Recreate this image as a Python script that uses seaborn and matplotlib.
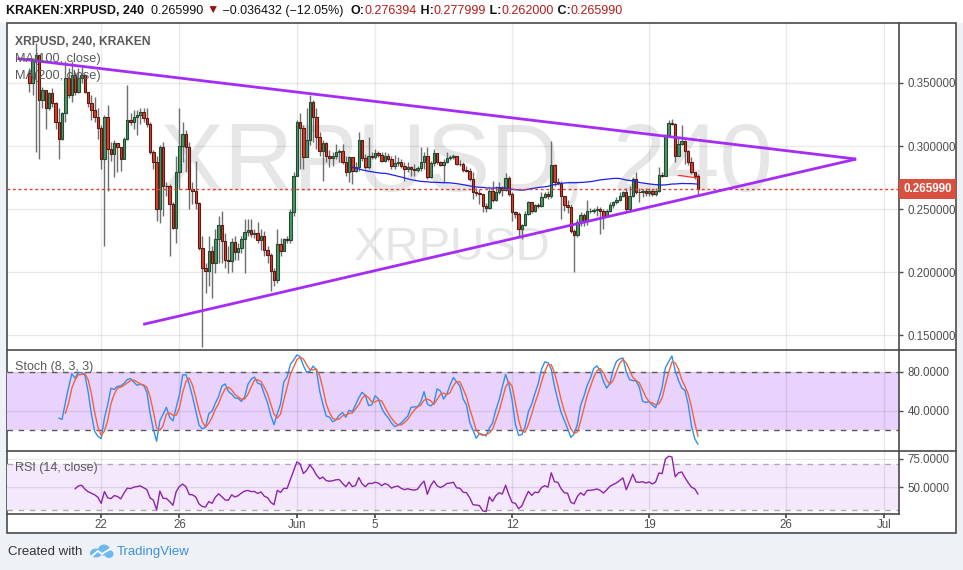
import numpy as np
import pandas as pd
import matplotlib
matplotlib.use("Agg")
import matplotlib.pyplot as plt
import matplotlib.dates as mdates
from matplotlib.patches import Rectangle, Ellipse
from matplotlib.lines import Line2D
import matplotlib.transforms as mtransforms
import seaborn as sns

# ---------------- data (4h candles, KRAKEN XRPUSD) ----------------
start_time = "2018-05-18 08:00"
open_first = 0.3577
close = [
    0.3497, 0.3670, 0.3723, 0.3364, 0.3444, 0.3298, 0.3417, 0.3338, 0.3191, 0.3058,
    0.3258, 0.3537, 0.3404, 0.3564, 0.3431, 0.3537, 0.3564, 0.3431, 0.3338, 0.3284,
    0.3231, 0.3143, 0.2899, 0.3231, 0.2978, 0.2938, 0.3027, 0.2992, 0.2899, 0.3058,
    0.3205, 0.3191, 0.3231, 0.3250, 0.3266, 0.3223, 0.3178, 0.2952, 0.2877, 0.2500,
    0.2992, 0.2686, 0.2680, 0.2539, 0.2353, 0.2792, 0.3000, 0.3095, 0.2992, 0.2659,
    0.2646, 0.2547, 0.2194, 0.2034, 0.2007, 0.2167, 0.2074, 0.2260, 0.2372, 0.2247,
    0.2101, 0.2087, 0.2242, 0.2159, 0.2194, 0.2266, 0.2321, 0.2337, 0.2303, 0.2308,
    0.2255, 0.2287, 0.2180, 0.2140, 0.2007, 0.1936, 0.2220, 0.2167, 0.2260, 0.2255,
    0.2478, 0.2766, 0.3191, 0.3143, 0.2912, 0.3050, 0.3346, 0.3231, 0.3071, 0.2957,
    0.3024, 0.2925, 0.2907, 0.2925, 0.2952, 0.2960, 0.2872, 0.2792, 0.2912, 0.2806,
    0.2832, 0.3050, 0.2904, 0.2832, 0.2920, 0.2915, 0.2947, 0.2931, 0.2880, 0.2925,
    0.2899, 0.2840, 0.2867, 0.2877, 0.2840, 0.2819, 0.2832, 0.2819, 0.2813, 0.2824,
    0.2877, 0.2923, 0.2752, 0.2867, 0.2947, 0.2877, 0.2851, 0.2872, 0.2909, 0.2915,
    0.2925, 0.2861, 0.2856, 0.2808, 0.2803, 0.2739, 0.2633, 0.2627, 0.2617, 0.2526,
    0.2513, 0.2643, 0.2574, 0.2633, 0.2665, 0.2649, 0.2750, 0.2619, 0.2478, 0.2460,
    0.2340, 0.2372, 0.2465, 0.2558, 0.2486, 0.2531, 0.2523, 0.2593, 0.2622, 0.2601,
    0.2851, 0.2718, 0.2710, 0.2606, 0.2531, 0.2521, 0.2327, 0.2292, 0.2398, 0.2457,
    0.2407, 0.2484, 0.2486, 0.2494, 0.2505, 0.2484, 0.2446, 0.2484, 0.2531, 0.2553,
    0.2574, 0.2606, 0.2638, 0.2505, 0.2606, 0.2739, 0.2638, 0.2633, 0.2643, 0.2627,
    0.2641, 0.2619, 0.2643, 0.2771, 0.2766, 0.3090, 0.3186, 0.3178, 0.2925, 0.3016,
    0.3042, 0.2957, 0.2872, 0.2792, 0.2764, 0.26599]
high = [
    0.3617, 0.3697, 0.3816, 0.3723, 0.3471, 0.3444, 0.3431, 0.3457, 0.3351, 0.3298,
    0.3271, 0.3670, 0.3617, 0.3670, 0.3590, 0.3617, 0.3630, 0.3564, 0.3417, 0.3404,
    0.3391, 0.3298, 0.3165, 0.3244, 0.3324, 0.3032, 0.3045, 0.3018, 0.2952, 0.3071,
    0.3484, 0.3258, 0.3284, 0.3284, 0.3298, 0.3298, 0.3298, 0.3191, 0.2965, 0.2925,
    0.3005, 0.3032, 0.2712, 0.2699, 0.2553, 0.2925, 0.3298, 0.3191, 0.3125, 0.3032,
    0.2712, 0.2885, 0.2553, 0.2287, 0.2074, 0.2287, 0.2207, 0.2340, 0.2446, 0.2486,
    0.2313, 0.2207, 0.2273, 0.2287, 0.2234, 0.2287, 0.2425, 0.2420, 0.2425, 0.2340,
    0.2398, 0.2340, 0.2327, 0.2207, 0.2154, 0.2034, 0.2340, 0.2273, 0.2273, 0.2287,
    0.2500, 0.2792, 0.3205, 0.3258, 0.3165, 0.3298, 0.3404, 0.3364, 0.3298, 0.3111,
    0.3045, 0.3032, 0.2965, 0.2952, 0.3018, 0.2978, 0.3018, 0.2925, 0.2925, 0.2912,
    0.2872, 0.3111, 0.3032, 0.2938, 0.3071, 0.2952, 0.2978, 0.2957, 0.2952, 0.2952,
    0.2947, 0.2925, 0.2931, 0.2912, 0.2899, 0.2872, 0.2872, 0.2845, 0.2859, 0.2845,
    0.2992, 0.2952, 0.2992, 0.2885, 0.2978, 0.2938, 0.2885, 0.2899, 0.2952, 0.2931,
    0.2936, 0.2912, 0.2893, 0.2877, 0.2845, 0.2824, 0.2792, 0.2665, 0.2659, 0.2619,
    0.2547, 0.2665, 0.2726, 0.2686, 0.2712, 0.2686, 0.2787, 0.2766, 0.2633, 0.2486,
    0.2478, 0.2380, 0.2486, 0.2566, 0.2539, 0.2539, 0.2547, 0.2633, 0.2638, 0.2646,
    0.3037, 0.2859, 0.2744, 0.2726, 0.2606, 0.2574, 0.2539, 0.2340, 0.2420, 0.2478,
    0.2468, 0.2574, 0.2513, 0.2510, 0.2526, 0.2521, 0.2500, 0.2500, 0.2553, 0.2566,
    0.2593, 0.2633, 0.2646, 0.2665, 0.2686, 0.2752, 0.2792, 0.2665, 0.2659, 0.2665,
    0.2665, 0.2659, 0.2665, 0.2832, 0.2797, 0.3098, 0.3205, 0.3213, 0.3183, 0.3071,
    0.3170, 0.3045, 0.2965, 0.2912, 0.2797, 0.277999]
low = [
    0.3431, 0.3404, 0.2952, 0.2899, 0.3298, 0.3138, 0.3284, 0.3311, 0.3138, 0.2899,
    0.3045, 0.3191, 0.3377, 0.3351, 0.3404, 0.3417, 0.3497, 0.3417, 0.3311, 0.3205,
    0.3191, 0.3058, 0.2819, 0.2207, 0.2646, 0.2885, 0.2752, 0.2792, 0.2806, 0.2899,
    0.3045, 0.3165, 0.3138, 0.3085, 0.3178, 0.3191, 0.3151, 0.2938, 0.2819, 0.2407,
    0.2393, 0.2446, 0.2606, 0.2127, 0.2340, 0.2234, 0.2659, 0.2872, 0.2792, 0.2500,
    0.2539, 0.2500, 0.2180, 0.1410, 0.1835, 0.1888, 0.1795, 0.1994, 0.2074, 0.2074,
    0.2034, 0.1994, 0.1999, 0.2101, 0.2101, 0.2154, 0.1994, 0.2287, 0.2281, 0.2273,
    0.2234, 0.2180, 0.2127, 0.2074, 0.1848, 0.1888, 0.1914, 0.2127, 0.2167, 0.2234,
    0.2234, 0.2446, 0.2766, 0.2819, 0.2819, 0.2978, 0.3005, 0.3032, 0.2978, 0.2925,
    0.2726, 0.2872, 0.2832, 0.2845, 0.2899, 0.2872, 0.2859, 0.2766, 0.2712, 0.2699,
    0.2792, 0.2806, 0.2885, 0.2819, 0.2819, 0.2899, 0.2899, 0.2912, 0.2872, 0.2872,
    0.2885, 0.2819, 0.2819, 0.2845, 0.2824, 0.2726, 0.2792, 0.2766, 0.2766, 0.2792,
    0.2806, 0.2819, 0.2739, 0.2744, 0.2840, 0.2859, 0.2840, 0.2712, 0.2867, 0.2893,
    0.2899, 0.2851, 0.2845, 0.2797, 0.2792, 0.2726, 0.2579, 0.2606, 0.2539, 0.2478,
    0.2478, 0.2500, 0.2553, 0.2566, 0.2617, 0.2606, 0.2643, 0.2606, 0.2407, 0.2433,
    0.2287, 0.2260, 0.2367, 0.2452, 0.2473, 0.2478, 0.2510, 0.2521, 0.2585, 0.2579,
    0.2590, 0.2686, 0.2691, 0.2420, 0.2486, 0.2468, 0.2308, 0.1999, 0.2281, 0.2367,
    0.2367, 0.2372, 0.2468, 0.2473, 0.2446, 0.2300, 0.2340, 0.2441, 0.2478, 0.2513,
    0.2539, 0.2566, 0.2593, 0.2486, 0.2500, 0.2593, 0.2619, 0.2553, 0.2593, 0.2606,
    0.2606, 0.2606, 0.2606, 0.2633, 0.2752, 0.2760, 0.3085, 0.3165, 0.2872, 0.2965,
    0.3005, 0.2859, 0.2851, 0.2779, 0.2739, 0.262]

# trend lines (symmetrical triangle) drawn on the chart
upper_line_time = ["2018-05-17 17:15", "2018-06-29 14:00"]
upper_line_price = [0.3693, 0.2897]
lower_line_time = ["2018-05-24 03:30", "2018-06-29 14:00"]
lower_line_price = [0.1587, 0.2897]

last_price = 0.265990
price_ticks = [0.15, 0.20, 0.25, 0.30, 0.35]
stoch_ticks = [40, 80]
rsi_ticks = [50, 75]
date_ticks = ["2018-05-22", "2018-05-26", "2018-06-01", "2018-06-05",
              "2018-06-12", "2018-06-19", "2018-06-26", "2018-07-01"]
date_labels = ["22", "26", "Jun", "5", "12", "19", "26", "Jul"]

header_parts = [("KRAKEN:XRPUSD, 240", "#111111", "bold"),
                ("  0.265990 ", "#111111", "normal"),
                ("\u25BC", "#9b0d0d", "normal"),
                (" \u22120.036432 (\u221212.05%)  ", "#111111", "normal"),
                ("O:", "#111111", "bold"), ("0.276394", "#b71c1c", "normal"),
                (" H:", "#111111", "bold"), ("0.277999", "#b71c1c", "normal"),
                (" L:", "#111111", "bold"), ("0.262000", "#b71c1c", "normal"),
                (" C:", "#111111", "bold"), ("0.265990", "#b71c1c", "normal")]

# ---------------- frame ----------------
df = pd.DataFrame({"close": close, "high": high, "low": low})
df["time"] = pd.date_range(start_time, periods=len(df), freq="4h")
df["open"] = [open_first] + close[:-1]
df["x"] = mdates.date2num(df["time"])

# indicators computed from the candles
df["ma100"] = df["close"].rolling(100).mean()
df["ma200"] = df["close"].rolling(200).mean()
ll = df["low"].rolling(8).min()
hh = df["high"].rolling(8).max()
raw_k = 100 * (df["close"] - ll) / (hh - ll)
df["k"] = raw_k.rolling(3).mean()
df["d"] = df["k"].rolling(3).mean()


def rma(vals, n):
    out = np.full(len(vals), np.nan)
    out[n] = np.mean(vals[1:n + 1])
    for i in range(n + 1, len(vals)):
        out[i] = (out[i - 1] * (n - 1) + vals[i]) / n
    return out


delta = df["close"].diff().fillna(0).values
up = rma(np.clip(delta, 0, None), 14)
dn = rma(np.clip(-delta, 0, None), 14)
df["rsi"] = 100 - 100 / (1 + up / dn)

# ---------------- styling ----------------
sns.set_theme(style="white")
plt.rcParams["font.family"] = ["Liberation Sans", "DejaVu Sans"]

W, H = 963, 570
fig = plt.figure(figsize=(W / 100, H / 100), dpi=100)
fig.patch.set_facecolor("#eef2f7")


def fx(px):
    return px / W


def fy(py):
    return 1 - py / H


fig.add_artist(Rectangle((0, fy(23)), 1, 23 / H, transform=fig.transFigure,
                         fc="white", ec="none", zorder=-10))
fig.add_artist(Rectangle((fx(7), fy(533)), fx(956) - fx(7), (533 - 23) / H,
                         transform=fig.transFigure, fc="white", ec="#4a4a4a",
                         lw=1.2, zorder=-9))

L, R = 7, 899
ax1 = fig.add_axes([fx(L), fy(349), fx(R) - fx(L), (349 - 23) / H])
ax2 = fig.add_axes([fx(L), fy(450), fx(R) - fx(L), (450 - 350) / H])
ax3 = fig.add_axes([fx(L), fy(514), fx(R) - fx(L), (514 - 451) / H])

x_lo = mdates.date2num(pd.Timestamp("2018-05-17 04:30"))
x_hi = mdates.date2num(pd.Timestamp("2018-07-01 18:30"))
tick_x = mdates.date2num(pd.to_datetime(date_ticks))

axis_col = "#4a4a4a"
lab_col = "#4d4d4d"
for ax in (ax1, ax2, ax3):
    ax.set_facecolor("none")
    ax.set_xlim(x_lo, x_hi)
    ax.set_xticks(tick_x)
    ax.grid(True, color="black", alpha=0.085, lw=1)
    ax.set_axisbelow(True)
    for s in ("left", "top", "bottom"):
        ax.spines[s].set_visible(False)
    ax.spines["right"].set_color(axis_col)
    ax.spines["right"].set_linewidth(1.2)
    ax.yaxis.tick_right()
    ax.tick_params(axis="y", right=True, length=3, width=1, color=axis_col,
                   labelsize=8.3, labelcolor=lab_col, pad=3)
    ax.tick_params(axis="x", bottom=False, labelbottom=False)

ax3.spines["bottom"].set_visible(True)
ax3.spines["bottom"].set_color(axis_col)
ax3.spines["bottom"].set_linewidth(1.2)
ax3.set_xticklabels(date_labels)
ax3.tick_params(axis="x", bottom=True, labelbottom=True, length=3,
                color=axis_col, labelsize=8.3, labelcolor=lab_col, pad=0.5)

# ---------------- main price panel ----------------
ax1.set_ylim(0.1392, 0.3975)
ax1.set_yticks(price_ticks)
ax1.set_yticklabels([f"{v:.6f}" for v in price_ticks])

ax1.text(0.515, 0.487, "XRPUSD, 240", transform=ax1.transAxes, ha="center",
         va="baseline", fontsize=69, color="#e6e6e6", zorder=0.2)
ax1.text(0.4996, 0.273, "XRPUSD", transform=ax1.transAxes, ha="center",
         va="baseline", fontsize=34, color="#e6e6e6", zorder=0.2)

bw = 0.75 / 6
up_mask = df["close"] >= df["open"]
for mask, fc, ec in ((up_mask, "#4f946a", "#1f4f31"), (~up_mask, "#d6412f", "#5e1a12")):
    sub = df[mask]
    lo_w = np.minimum(sub["low"], np.minimum(sub["open"], sub["close"]))
    hi_w = np.maximum(sub["high"], np.maximum(sub["open"], sub["close"]))
    ax1.vlines(sub["x"], lo_w, hi_w, color="#6e6e6e", lw=1, zorder=2)
    body_lo = np.minimum(sub["open"], sub["close"])
    body_h = np.maximum(np.abs(sub["close"] - sub["open"]), 0.0005)
    ax1.bar(sub["x"], body_h, bottom=body_lo, width=bw, color=fc, edgecolor=ec,
            linewidth=0.8, zorder=3)

sns.lineplot(x=df["x"], y=df["ma100"], ax=ax1, color="#2020e8", lw=0.9,
             estimator=None, sort=False, legend=False, zorder=4)
sns.lineplot(x=df["x"], y=df["ma200"], ax=ax1, color="#ff2a2a", lw=0.9,
             estimator=None, sort=False, legend=False, zorder=4)

ax1.plot(mdates.date2num(pd.to_datetime(upper_line_time)), upper_line_price,
         color="#a52cf6", lw=2, zorder=5, solid_capstyle="butt")
ax1.plot(mdates.date2num(pd.to_datetime(lower_line_time)), lower_line_price,
         color="#a52cf6", lw=2, zorder=5, solid_capstyle="butt")

ax1.axhline(last_price, color="#e0412e", lw=1, ls=(0, (2, 2)), zorder=4.5)
blend = mtransforms.blended_transform_factory(ax1.transAxes, ax1.transData)
tag_tr = mtransforms.offset_copy(blend, fig=fig, x=4, y=0, units="dots")
ax1.text(1.0, last_price, f"{last_price:.6f}", transform=tag_tr, ha="left",
         va="center", fontsize=8.4, fontweight="bold", color="white", zorder=10,
         clip_on=False,
         bbox=dict(boxstyle="square,pad=0.35", fc="#d9503f", ec="none"))

leg_col = "#5a5a5a"
ax1.text((15 - L) / (R - L), 1 - (42 - 23) / 326, "XRPUSD, 240, KRAKEN",
         transform=ax1.transAxes, fontsize=8.7, fontweight="bold", color=leg_col,
         va="center", ha="left", zorder=8)
ax1.text((15 - L) / (R - L), 1 - (59 - 23) / 326, "MA(100, close)",
         transform=ax1.transAxes, fontsize=9.2, color=leg_col, va="center",
         ha="left", zorder=8)
ax1.text((15 - L) / (R - L), 1 - (76 - 23) / 326, "MA(200, close)",
         transform=ax1.transAxes, fontsize=9.2, color=leg_col, va="center",
         ha="left", zorder=8)
ax1.set_xlabel("")
ax1.set_ylabel("")

# ---------------- stochastic panel ----------------
ax2.set_ylim(-0.7, 102.7)
ax2.axhspan(20, 80, color="#e9d3fc", zorder=0.1, lw=0)
for lvl in (20, 80):
    ax2.axhline(lvl, color="#5a5a5a", lw=1, ls=(0, (4, 4)), zorder=1)
ax2.set_yticks(stoch_ticks)
ax2.set_yticklabels([f"{v:.4f}" for v in stoch_ticks])
sns.lineplot(x=df["x"], y=df["k"], ax=ax2, color="#2f8ff0", lw=1,
             estimator=None, sort=False, legend=False, zorder=3)
sns.lineplot(x=df["x"], y=df["d"], ax=ax2, color="#f4623a", lw=1,
             estimator=None, sort=False, legend=False, zorder=3)
ax2.text((15 - L) / (R - L), 0.83, "Stoch (8, 3, 3)", transform=ax2.transAxes,
         fontsize=9, color=leg_col, va="center", ha="left", zorder=8)
ax2.set_xlabel("")
ax2.set_ylabel("")

# ---------------- RSI panel ----------------
ax3.set_ylim(26.5, 81.6)
ax3.axhspan(30, 70, color="#f4e8fd", zorder=0.1, lw=0)
for lvl in (30, 70):
    ax3.axhline(lvl, color="#b0a8b8", lw=1, ls=(0, (4, 4)), zorder=1)
ax3.set_yticks(rsi_ticks)
ax3.set_yticklabels([f"{v:.4f}" for v in rsi_ticks])
sns.lineplot(x=df["x"], y=df["rsi"], ax=ax3, color="#8e24aa", lw=1,
             estimator=None, sort=False, legend=False, zorder=3)
ax3.text((15 - L) / (R - L), 0.73, "RSI (14, close)", transform=ax3.transAxes,
         fontsize=9, color=leg_col, va="center", ha="left", zorder=8)
ax3.set_xlabel("")
ax3.set_ylabel("")

# panel separators across the full width
for yy in (349.5, 450.5):
    fig.add_artist(Line2D([fx(7), fx(956)], [fy(yy), fy(yy)], color=axis_col,
                          lw=1.2, zorder=20))

# ---------------- header ----------------
renderer = fig.canvas.get_renderer()
fs = 10.0
tmp_w = 0
tmp = []
for s, c, w in header_parts:
    t = fig.text(0, 0, s, fontsize=fs, fontweight=w)
    tmp_w += t.get_window_extent(renderer=renderer).width
    tmp.append(t)
for t in tmp:
    t.remove()
fs = fs * 615 / tmp_w
xpos = 6
for s, c, w in header_parts:
    t = fig.text(fx(xpos), fy(11), s, fontsize=fs, fontweight=w, color=c,
                 ha="left", va="center",
                 family=["Liberation Sans", "DejaVu Sans"])
    xpos += t.get_window_extent(renderer=renderer).width

# ---------------- footer ----------------
fig.text(fx(8), fy(552), "Created with", fontsize=9.5, color="#333333",
         ha="left", va="center")
logo_col = "#6cb9ee"
for (cx, cy, ew, eh) in ((96, 553, 12, 9), (104, 550, 12, 11), (109, 554, 9, 8)):
    fig.add_artist(Ellipse((fx(cx), fy(cy)), ew / W, eh / H,
                           transform=fig.transFigure, fc=logo_col, ec="none"))
fig.add_artist(Line2D([fx(92), fx(98), fx(102), fx(110)],
                      [fy(556), fy(551), fy(554), fy(549)],
                      color="white", lw=1.3))
fig.text(fx(117), fy(552), "TradingView", fontsize=9.5, color="#3d90da",
         ha="left", va="center")

fig.savefig("out.png", dpi=100, facecolor=fig.get_facecolor())
